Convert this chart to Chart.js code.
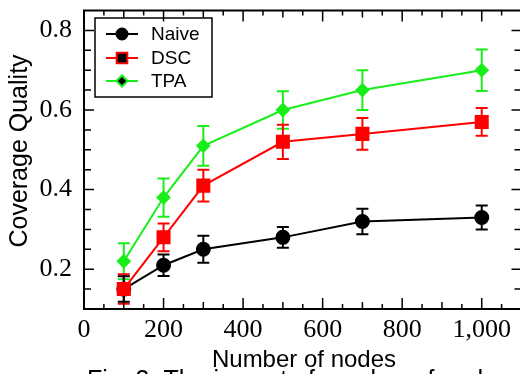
<!doctype html>
<html lang="en">

<head>
    <meta charset="utf-8">
    <title>Coverage Quality</title>
    <script src="https://cdn.jsdelivr.net/npm/chart.js"></script>
    <style>
        body { margin: 0; overflow: hidden; background: #fff; }
        #wrap { width: 532px; height: 374px; }
    </style>
</head>

<body>
    <div id="wrap"><canvas id="chart"></canvas></div>
    <script>
        // values
        const nodes = [100, 200, 300, 500, 700, 1000];
        const naive = [0.15, 0.21, 0.25, 0.28, 0.32, 0.33];
        const naiveErr = [0.032, 0.027, 0.034, 0.026, 0.032, 0.03];
        const dsc = [0.15, 0.28, 0.41, 0.52, 0.54, 0.57];
        const dscErr = [0.037, 0.035, 0.04, 0.043, 0.04, 0.035];
        const tpa = [0.22, 0.38, 0.51, 0.60, 0.65, 0.70];
        const tpaErr = [0.045, 0.048, 0.05, 0.047, 0.05, 0.052];

        const xTicks = [0, 200, 400, 600, 800, 1000];
        const xTickLabels = ["0", "200", "400", "600", "800", "1,000"];
        const yTicks = [0.2, 0.4, 0.6, 0.8];
        const yTickLabels = ["0.2", "0.4", "0.6", "0.8"];

        const GREEN = "#1aee1a";
        const RED = "#ff0000";
        const BLACK = "#000000";

        function toPoints(ys) {
            return nodes.map((x, i) => ({ x: x, y: ys[i] }));
        }

        // error bars, box, inward ticks, titles, legend
        const figPlugin = {
            id: 'fig',
            beforeDatasetsDraw(chart) {
                const ctx = chart.ctx;
                const xs = chart.scales.x, ys = chart.scales.y;
                chart.data.datasets.slice().reverse().forEach(ds => {
                    ctx.save();
                    ctx.strokeStyle = ds.borderColor;
                    ctx.lineWidth = 2;
                    ds.data.forEach((p, i) => {
                        const e = ds.err[i];
                        const px = xs.getPixelForValue(p.x);
                        const top = ys.getPixelForValue(p.y + e);
                        const bot = ys.getPixelForValue(p.y - e);
                        ctx.beginPath();
                        ctx.moveTo(px, top); ctx.lineTo(px, bot);
                        ctx.moveTo(px - 6, top); ctx.lineTo(px + 6, top);
                        ctx.moveTo(px - 6, bot); ctx.lineTo(px + 6, bot);
                        ctx.stroke();
                    });
                    ctx.restore();
                });
            },
            afterDraw(chart) {
                const ctx = chart.ctx;
                const a = chart.chartArea;
                const xs = chart.scales.x, ys = chart.scales.y;
                ctx.save();
                ctx.strokeStyle = "#000";
                ctx.lineWidth = 2;
                ctx.strokeRect(a.left, a.top, a.right - a.left, a.bottom - a.top);

                // x ticks every 50, bigger every 100 and 200
                ctx.lineWidth = 1.5;
                ctx.beginPath();
                for (let v = 50; v < xs.max; v += 50) {
                    const px = xs.getPixelForValue(v);
                    let len = 5;
                    if (v % 200 == 0) len = 11;
                    else if (v % 100 == 0) len = 7;
                    ctx.moveTo(px, a.bottom); ctx.lineTo(px, a.bottom - len);
                    ctx.moveTo(px, a.top); ctx.lineTo(px, a.top + len);
                }
                // y ticks every 0.05
                for (let k = 3; k < 17; k++) {
                    const v = k * 0.05;
                    const py = ys.getPixelForValue(v);
                    const len = (k % 4 == 0) ? 10 : 7;
                    ctx.moveTo(a.left, py); ctx.lineTo(a.left + len, py);
                    ctx.moveTo(a.right, py); ctx.lineTo(a.right - len, py);
                }
                ctx.stroke();

                // axis titles and caption
                ctx.fillStyle = "#000";
                ctx.font = "24px 'Liberation Sans', Arial, sans-serif";
                ctx.textAlign = "center";
                ctx.textBaseline = "alphabetic";
                ctx.fillText("Number of nodes", 304, 367);
                ctx.font = "25px 'Liberation Sans', Arial, sans-serif";
                ctx.textAlign = "left";
                ctx.fillText("Fig. 3. The impact of number of nodes", 87, 388);
                ctx.save();
                ctx.translate(27, 151);
                ctx.rotate(-Math.PI / 2);
                ctx.textAlign = "center";
                ctx.fillText("Coverage Quality", 0, 0);
                ctx.restore();

                // legend box
                ctx.lineWidth = 1.5;
                ctx.strokeRect(95, 18, 117, 79);
                const rows = [34, 58, 81];
                ctx.font = "19px 'Liberation Sans', Arial, sans-serif";
                ctx.textBaseline = "middle";
                chart.data.datasets.forEach((ds, i) => {
                    const y = rows[i];
                    ctx.strokeStyle = ds.borderColor;
                    ctx.lineWidth = 2;
                    ctx.beginPath();
                    ctx.moveTo(106, y); ctx.lineTo(138, y);
                    ctx.stroke();
                    Chart.helpers.drawPoint(ctx, {
                        pointStyle: ds.pointStyle, radius: ds.legendRadius, borderWidth: 1
                    }, 122, y);
                    ctx.fillStyle = "#000";
                    ctx.fillText(ds.label, 151, y + 1);
                });
                ctx.restore();
            }
        };

        function makeDataset(label, ys, errs, color, style, radius, legendRadius, order) {
            return {
                label: label,
                data: toPoints(ys),
                err: errs,
                borderColor: color,
                backgroundColor: color,
                pointBackgroundColor: color,
                pointBorderColor: color,
                pointStyle: style,
                pointRadius: radius,
                legendRadius: legendRadius,
                borderWidth: 2,
                order: order
            };
        }

        new Chart(document.getElementById('chart'), {
            type: 'line',
            data: {
                datasets: [
                    makeDataset('Naive', naive, naiveErr, BLACK, 'circle', 6.5, 5.5, 3),
                    makeDataset('DSC', dsc, dscErr, RED, 'rect', 8.5, 7.5, 1),
                    makeDataset('TPA', tpa, tpaErr, GREEN, 'rectRot', 6, 5.5, 2)
                ]
            },
            options: {
                responsive: true,
                maintainAspectRatio: false,
                animation: false,
                layout: { padding: { top: 7, right: 9, left: 0, bottom: 0 } },
                plugins: {
                    legend: { display: false },
                    tooltip: { enabled: false }
                },
                scales: {
                    x: {
                        type: 'linear',
                        min: 0,
                        max: 1100,
                        border: { display: false },
                        grid: { display: false, drawTicks: false },
                        afterBuildTicks: (s) => { s.ticks = xTicks.map(v => ({ value: v })); },
                        afterFit: (s) => {
                            s.height = 65;
                            s.paddingLeft = 0; s.paddingRight = 0;
                        },
                        ticks: {
                            color: "#000",
                            padding: 6,
                            maxRotation: 0,
                            autoSkip: false,
                            font: { family: "'Liberation Serif', 'Times New Roman', serif", size: 26 },
                            callback: (v) => xTickLabels[xTicks.indexOf(v)]
                        }
                    },
                    y: {
                        min: 0.1,
                        max: 0.85,
                        border: { display: false },
                        grid: { display: false, drawTicks: false },
                        afterBuildTicks: (s) => { s.ticks = yTicks.map(v => ({ value: v })); },
                        afterFit: (s) => {
                            s.width = 84;
                            s.paddingTop = 0; s.paddingBottom = 0;
                        },
                        ticks: {
                            color: "#000",
                            padding: 12,
                            autoSkip: false,
                            font: { family: "'Liberation Serif', 'Times New Roman', serif", size: 26 },
                            callback: (v) => yTickLabels[yTicks.indexOf(v)]
                        }
                    }
                }
            },
            plugins: [figPlugin]
        });
    </script>
</body>

</html>
